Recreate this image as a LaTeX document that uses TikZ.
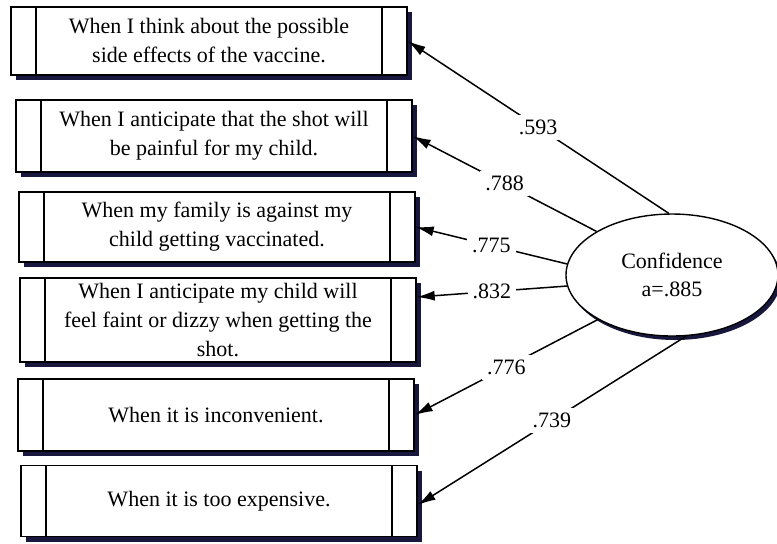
\documentclass[tikz,border=0pt]{standalone}
\usepackage{fontspec}
\setmainfont{Liberation Serif}
\usepackage{tikz}
\usetikzlibrary{shapes.geometric,arrows.meta,shadows}
\definecolor{shadownavy}{RGB}{24, 24, 62}

\begin{document}
\begin{tikzpicture}[x=0.5pt, y=-0.5pt,
  item/.style={draw, fill=white, line width=0.7pt, rectangle, minimum width=198pt, minimum height=#1,
    align=center, font=\fontsize{11}{14.5}\selectfont, inner sep=0pt,
    drop shadow={shadow xshift=2.5pt, shadow yshift=-2.5pt, fill=shadownavy, opacity=1},
    path picture={\draw[line width=0.7pt]
      ([xshift=12.5pt]path picture bounding box.north west) -- ([xshift=12.5pt]path picture bounding box.south west)
      ([xshift=-12.5pt]path picture bounding box.north east) -- ([xshift=-12.5pt]path picture bounding box.south east);}},
  factor/.style={draw, fill=white, ellipse, line width=0.7pt, minimum width=106pt, minimum height=61pt,
    align=center, font=\fontsize{11}{14}\selectfont, inner sep=0pt,
    drop shadow={shadow xshift=1.5pt, shadow yshift=-2pt, fill=shadownavy, opacity=1}},
  load/.style={-{Latex[length=9pt, width=5pt]}, line width=0.75pt},
  wt/.style={fill=white, inner sep=2.5pt, font=\fontsize{11}{13}\selectfont}
]
\useasboundingbox (0,0) rectangle (777,543);

% Items
\node[item=34pt] (b1) at (209, 41) {When I think about the possible\\side effects of the vaccine.};
\node[item=36pt] (b2) at (214, 136) {When I anticipate that the shot will\\be painful for my child.};
\node[item=35pt] (b3) at (217, 227) {When my family is against my\\child getting vaccinated.};
\node[item=42pt] (b4) at (218, 320) {When I anticipate my child will\\feel faint or dizzy when getting the\\shot.};
\node[item=36pt] (b5) at (216, 415) {When it is inconvenient.};
\node[item=35.5pt] (b6) at (219, 501) {When it is too expensive.};

% Factor
\node[factor] (conf) at (672, 275) {Confidence\\a=.885};

% Loadings
\draw[load] (conf.93) -- (b1.east) node[wt, midway] {.593};
\draw[load] (conf.150) -- (b2.east) node[wt, midway] {.788};
\draw[load] (conf.174) -- (b3.east) node[wt, midway] {.775};
\draw[load] (conf.186) -- ([yshift=11.5pt]b4.east) node[wt, midway] {.832};
\draw[load] (conf.211) -- (b5.east) node[wt, midway] {.776};
\draw[load] (conf.283) -- ([yshift=-2pt]b6.east) node[wt, midway] {.739};

\end{tikzpicture}
\end{document}
